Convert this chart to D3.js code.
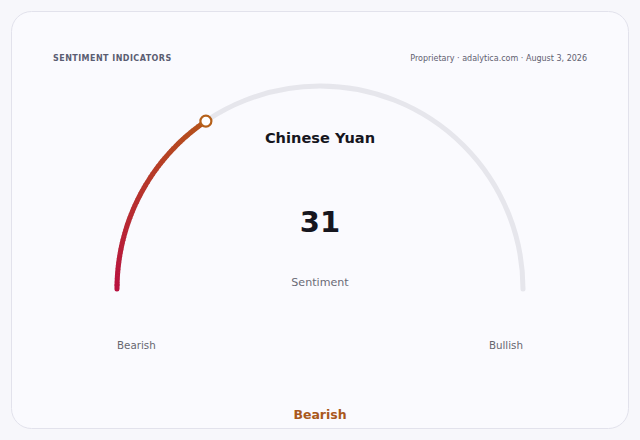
<!DOCTYPE html>
<html>
<head>
<meta charset="utf-8">
<script src="https://cdn.jsdelivr.net/npm/d3@7"></script>
<style>
  html, body { margin: 0; padding: 0; background: #f7f7fb; }
  svg { display: block; font-family: "DejaVu Sans", sans-serif; }
</style>
</head>
<body>
<div id="chart"></div>
<script>
// Chart data
const instrument = ['Chinese Yuan'];
const sentimentValue = [31];
const scaleDomain = [0, 100];
const endLabels = ['Bearish', 'Bullish'];
const verdict = ['Bearish'];
const headerTitle = ['SENTIMENT INDICATORS'];
const headerSource = ['Proprietary · adalytica.com · August 3, 2026'];

const width = 640, height = 440;
const cx = 320, cy = 289, radius = 203;

const svg = d3.select('#chart')
  .append('svg')
  .attr('width', width)
  .attr('height', height);

// Card
svg.append('rect')
  .attr('x', 11.5).attr('y', 11.5)
  .attr('width', 617).attr('height', 417)
  .attr('rx', 20)
  .attr('fill', '#fafafe')
  .attr('stroke', '#e2e2ec')
  .attr('stroke-width', 1);

svg.append('text')
  .attr('x', 53).attr('y', 61)
  .attr('font-size', 8)
  .attr('font-weight', 'bold')
  .attr('letter-spacing', 0.45)
  .attr('fill', '#5a5d72')
  .text(headerTitle[0]);

svg.append('text')
  .attr('x', 587).attr('y', 61)
  .attr('text-anchor', 'end')
  .attr('font-size', 8)
  .attr('fill', '#5f6070')
  .text(headerSource[0]);

// Angle scale: value -> angle (radians, 0 = pointing up)
const angle = d3.scaleLinear()
  .domain(scaleDomain)
  .range([-Math.PI / 2, Math.PI / 2]);

const g = svg.append('g').attr('transform', `translate(${cx},${cy})`);

function arcPath(a0, a1) {
  const p = d3.path();
  p.arc(0, 0, radius, a0 - Math.PI / 2, a1 - Math.PI / 2);
  return p.toString();
}

// Background track
g.append('path')
  .attr('d', arcPath(angle(scaleDomain[0]), angle(scaleDomain[1])))
  .attr('fill', 'none')
  .attr('stroke', '#e6e6ec')
  .attr('stroke-width', 5)
  .attr('stroke-linecap', 'round');

// Value arc drawn as small segments with colour blended along its length
const color = d3.interpolateRgb('#b9123f', '#b5521a');
const steps = 60;
const a0 = angle(scaleDomain[0]);
const a1 = angle(sentimentValue[0]);
const segs = d3.range(steps).map(i => ({
  s: a0 + (a1 - a0) * i / steps,
  e: a0 + (a1 - a0) * (i + 1) / steps,
  t: i / (steps - 1)
}));

g.append('g')
  .selectAll('path')
  .data(segs)
  .enter()
  .append('path')
  .attr('d', d => arcPath(d.s, d.e + 0.003))
  .attr('fill', 'none')
  .attr('stroke', d => color(d.t))
  .attr('stroke-width', 5)
  .attr('stroke-linecap', (d, i) => i === 0 ? 'round' : 'butt');

// Marker
const ma = a1 - Math.PI / 2;
g.append('circle')
  .attr('cx', radius * Math.cos(ma))
  .attr('cy', radius * Math.sin(ma))
  .attr('r', 5.5)
  .attr('fill', '#ffffff')
  .attr('stroke', '#b5601a')
  .attr('stroke-width', 2.2);

// Texts
svg.append('text')
  .attr('x', cx).attr('y', 143)
  .attr('text-anchor', 'middle')
  .attr('font-size', 14.6)
  .attr('font-weight', 'bold')
  .attr('fill', '#16161e')
  .text(instrument[0]);

svg.append('text')
  .attr('x', cx).attr('y', 232)
  .attr('text-anchor', 'middle')
  .attr('font-size', 29)
  .attr('font-weight', 'bold')
  .attr('fill', '#16161e')
  .text(sentimentValue[0]);

svg.append('text')
  .attr('x', cx).attr('y', 285.5)
  .attr('text-anchor', 'middle')
  .attr('font-size', 11.1)
  .attr('fill', '#6a6a76')
  .text('Sentiment');

svg.append('text')
  .attr('x', cx - radius).attr('y', 349)
  .attr('text-anchor', 'start')
  .attr('font-size', 10.3)
  .attr('fill', '#66666f')
  .text(endLabels[0]);

svg.append('text')
  .attr('x', cx + radius).attr('y', 349)
  .attr('text-anchor', 'end')
  .attr('font-size', 10.3)
  .attr('fill', '#66666f')
  .text(endLabels[1]);

svg.append('text')
  .attr('x', cx).attr('y', 418.5)
  .attr('text-anchor', 'middle')
  .attr('font-size', 12.5)
  .attr('font-weight', 'bold')
  .attr('fill', '#a9581c')
  .text(verdict[0]);
</script>
</body>
</html>
